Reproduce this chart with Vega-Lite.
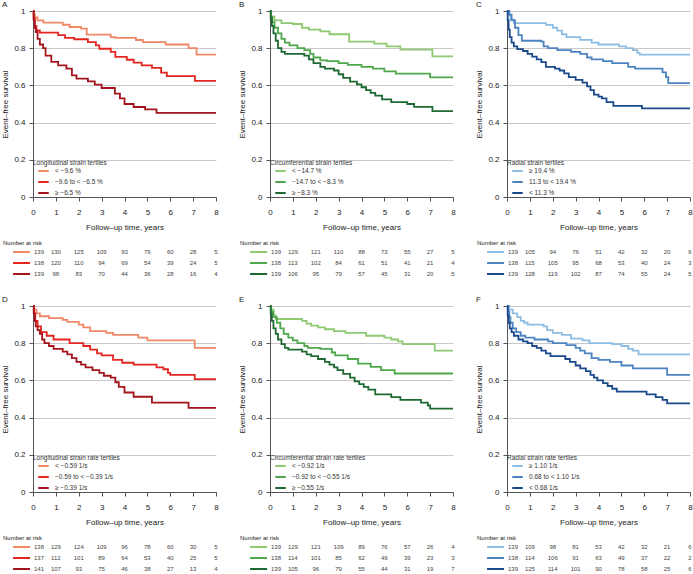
{
"$schema":"https://vega.github.io/schema/vega-lite/v6.json",
"padding":{"left":1,"top":1,"right":0,"bottom":0},
"background":"white",
"datasets":{
"km":[
{"p":"A","g":1,"t":0,"s":1},{"p":"A","g":1,"t":0.03,"s":0.98},{"p":"A","g":1,"t":0.08,"s":0.965},{"p":"A","g":1,"t":0.2,"s":0.95},{"p":"A","g":1,"t":0.45,"s":0.937},{"p":"A","g":1,"t":1.3,"s":0.926},{"p":"A","g":1,"t":1.6,"s":0.914},{"p":"A","g":1,"t":2.1,"s":0.905},{"p":"A","g":1,"t":2.35,"s":0.873},{"p":"A","g":1,"t":3.4,"s":0.86},{"p":"A","g":1,"t":3.6,"s":0.855},{"p":"A","g":1,"t":4.5,"s":0.844},{"p":"A","g":1,"t":4.8,"s":0.833},{"p":"A","g":1,"t":5.8,"s":0.82},{"p":"A","g":1,"t":6.8,"s":0.8},{"p":"A","g":1,"t":7.15,"s":0.765},{"p":"A","g":1,"t":8,"s":0.765},
{"p":"A","g":2,"t":0,"s":1},{"p":"A","g":2,"t":0.03,"s":0.96},{"p":"A","g":2,"t":0.08,"s":0.92},{"p":"A","g":2,"t":0.15,"s":0.896},{"p":"A","g":2,"t":0.3,"s":0.884},{"p":"A","g":2,"t":1.1,"s":0.87},{"p":"A","g":2,"t":1.4,"s":0.855},{"p":"A","g":2,"t":1.8,"s":0.848},{"p":"A","g":2,"t":2.4,"s":0.833},{"p":"A","g":2,"t":2.75,"s":0.815},{"p":"A","g":2,"t":2.9,"s":0.797},{"p":"A","g":2,"t":3.4,"s":0.78},{"p":"A","g":2,"t":3.6,"s":0.753},{"p":"A","g":2,"t":4.1,"s":0.738},{"p":"A","g":2,"t":4.4,"s":0.722},{"p":"A","g":2,"t":4.75,"s":0.708},{"p":"A","g":2,"t":5.2,"s":0.694},{"p":"A","g":2,"t":5.6,"s":0.669},{"p":"A","g":2,"t":5.85,"s":0.65},{"p":"A","g":2,"t":7.08,"s":0.624},{"p":"A","g":2,"t":8,"s":0.624},
{"p":"A","g":3,"t":0,"s":1},{"p":"A","g":3,"t":0.03,"s":0.95},{"p":"A","g":3,"t":0.07,"s":0.91},{"p":"A","g":3,"t":0.12,"s":0.887},{"p":"A","g":3,"t":0.2,"s":0.85},{"p":"A","g":3,"t":0.3,"s":0.82},{"p":"A","g":3,"t":0.44,"s":0.8},{"p":"A","g":3,"t":0.55,"s":0.76},{"p":"A","g":3,"t":0.8,"s":0.726},{"p":"A","g":3,"t":1.1,"s":0.708},{"p":"A","g":3,"t":1.46,"s":0.69},{"p":"A","g":3,"t":1.7,"s":0.654},{"p":"A","g":3,"t":1.9,"s":0.636},{"p":"A","g":3,"t":2.4,"s":0.622},{"p":"A","g":3,"t":2.7,"s":0.604},{"p":"A","g":3,"t":3.0,"s":0.586},{"p":"A","g":3,"t":3.58,"s":0.556},{"p":"A","g":3,"t":3.8,"s":0.53},{"p":"A","g":3,"t":4.0,"s":0.5},{"p":"A","g":3,"t":4.4,"s":0.484},{"p":"A","g":3,"t":4.9,"s":0.471},{"p":"A","g":3,"t":5.4,"s":0.452},{"p":"A","g":3,"t":8,"s":0.452},
{"p":"B","g":1,"t":0,"s":1},{"p":"B","g":1,"t":0.05,"s":0.97},{"p":"B","g":1,"t":0.2,"s":0.95},{"p":"B","g":1,"t":0.5,"s":0.935},{"p":"B","g":1,"t":1.0,"s":0.93},{"p":"B","g":1,"t":1.4,"s":0.91},{"p":"B","g":1,"t":1.7,"s":0.9},{"p":"B","g":1,"t":2.2,"s":0.89},{"p":"B","g":1,"t":2.6,"s":0.875},{"p":"B","g":1,"t":3.46,"s":0.835},{"p":"B","g":1,"t":4.56,"s":0.825},{"p":"B","g":1,"t":5.1,"s":0.81},{"p":"B","g":1,"t":5.7,"s":0.792},{"p":"B","g":1,"t":7.1,"s":0.756},{"p":"B","g":1,"t":8,"s":0.756},
{"p":"B","g":2,"t":0,"s":1},{"p":"B","g":2,"t":0.05,"s":0.97},{"p":"B","g":2,"t":0.1,"s":0.94},{"p":"B","g":2,"t":0.2,"s":0.91},{"p":"B","g":2,"t":0.35,"s":0.88},{"p":"B","g":2,"t":0.5,"s":0.85},{"p":"B","g":2,"t":0.65,"s":0.83},{"p":"B","g":2,"t":0.85,"s":0.815},{"p":"B","g":2,"t":1.2,"s":0.8},{"p":"B","g":2,"t":1.5,"s":0.79},{"p":"B","g":2,"t":1.75,"s":0.77},{"p":"B","g":2,"t":1.9,"s":0.75},{"p":"B","g":2,"t":2.2,"s":0.735},{"p":"B","g":2,"t":2.5,"s":0.73},{"p":"B","g":2,"t":3.0,"s":0.72},{"p":"B","g":2,"t":3.4,"s":0.71},{"p":"B","g":2,"t":4.0,"s":0.7},{"p":"B","g":2,"t":4.5,"s":0.69},{"p":"B","g":2,"t":5.0,"s":0.675},{"p":"B","g":2,"t":5.5,"s":0.663},{"p":"B","g":2,"t":7.0,"s":0.643},{"p":"B","g":2,"t":8,"s":0.643},
{"p":"B","g":3,"t":0,"s":1},{"p":"B","g":3,"t":0.03,"s":0.96},{"p":"B","g":3,"t":0.08,"s":0.92},{"p":"B","g":3,"t":0.15,"s":0.88},{"p":"B","g":3,"t":0.25,"s":0.84},{"p":"B","g":3,"t":0.35,"s":0.8},{"p":"B","g":3,"t":0.5,"s":0.78},{"p":"B","g":3,"t":0.65,"s":0.77},{"p":"B","g":3,"t":1.5,"s":0.76},{"p":"B","g":3,"t":1.7,"s":0.74},{"p":"B","g":3,"t":1.9,"s":0.72},{"p":"B","g":3,"t":2.2,"s":0.7},{"p":"B","g":3,"t":2.4,"s":0.69},{"p":"B","g":3,"t":2.8,"s":0.68},{"p":"B","g":3,"t":3.0,"s":0.66},{"p":"B","g":3,"t":3.2,"s":0.64},{"p":"B","g":3,"t":3.5,"s":0.62},{"p":"B","g":3,"t":3.8,"s":0.605},{"p":"B","g":3,"t":4.0,"s":0.59},{"p":"B","g":3,"t":4.2,"s":0.575},{"p":"B","g":3,"t":4.4,"s":0.56},{"p":"B","g":3,"t":4.6,"s":0.545},{"p":"B","g":3,"t":4.9,"s":0.525},{"p":"B","g":3,"t":5.3,"s":0.51},{"p":"B","g":3,"t":6.0,"s":0.5},{"p":"B","g":3,"t":6.3,"s":0.485},{"p":"B","g":3,"t":7.1,"s":0.462},{"p":"B","g":3,"t":8,"s":0.462},
{"p":"C","g":1,"t":0,"s":1},{"p":"C","g":1,"t":0.05,"s":0.98},{"p":"C","g":1,"t":0.15,"s":0.955},{"p":"C","g":1,"t":0.3,"s":0.935},{"p":"C","g":1,"t":1.7,"s":0.925},{"p":"C","g":1,"t":2.0,"s":0.91},{"p":"C","g":1,"t":2.2,"s":0.895},{"p":"C","g":1,"t":2.4,"s":0.875},{"p":"C","g":1,"t":2.6,"s":0.86},{"p":"C","g":1,"t":3.2,"s":0.845},{"p":"C","g":1,"t":3.7,"s":0.83},{"p":"C","g":1,"t":4.0,"s":0.82},{"p":"C","g":1,"t":4.9,"s":0.81},{"p":"C","g":1,"t":5.2,"s":0.8},{"p":"C","g":1,"t":5.5,"s":0.79},{"p":"C","g":1,"t":5.7,"s":0.775},{"p":"C","g":1,"t":5.8,"s":0.765},{"p":"C","g":1,"t":8,"s":0.765},
{"p":"C","g":2,"t":0,"s":1},{"p":"C","g":2,"t":0.1,"s":0.98},{"p":"C","g":2,"t":0.2,"s":0.95},{"p":"C","g":2,"t":0.35,"s":0.91},{"p":"C","g":2,"t":0.5,"s":0.87},{"p":"C","g":2,"t":0.65,"s":0.84},{"p":"C","g":2,"t":1.5,"s":0.835},{"p":"C","g":2,"t":1.6,"s":0.81},{"p":"C","g":2,"t":1.8,"s":0.8},{"p":"C","g":2,"t":2.2,"s":0.79},{"p":"C","g":2,"t":2.8,"s":0.78},{"p":"C","g":2,"t":3.2,"s":0.77},{"p":"C","g":2,"t":3.5,"s":0.75},{"p":"C","g":2,"t":3.7,"s":0.74},{"p":"C","g":2,"t":4.2,"s":0.73},{"p":"C","g":2,"t":4.6,"s":0.72},{"p":"C","g":2,"t":5.3,"s":0.7},{"p":"C","g":2,"t":5.6,"s":0.69},{"p":"C","g":2,"t":6.8,"s":0.67},{"p":"C","g":2,"t":6.95,"s":0.645},{"p":"C","g":2,"t":7.05,"s":0.612},{"p":"C","g":2,"t":8,"s":0.612},
{"p":"C","g":3,"t":0,"s":1},{"p":"C","g":3,"t":0.03,"s":0.95},{"p":"C","g":3,"t":0.07,"s":0.9},{"p":"C","g":3,"t":0.12,"s":0.86},{"p":"C","g":3,"t":0.2,"s":0.83},{"p":"C","g":3,"t":0.3,"s":0.81},{"p":"C","g":3,"t":0.45,"s":0.795},{"p":"C","g":3,"t":0.7,"s":0.785},{"p":"C","g":3,"t":0.9,"s":0.77},{"p":"C","g":3,"t":1.1,"s":0.755},{"p":"C","g":3,"t":1.3,"s":0.74},{"p":"C","g":3,"t":1.5,"s":0.725},{"p":"C","g":3,"t":1.7,"s":0.7},{"p":"C","g":3,"t":2.1,"s":0.69},{"p":"C","g":3,"t":2.3,"s":0.68},{"p":"C","g":3,"t":2.5,"s":0.665},{"p":"C","g":3,"t":2.7,"s":0.645},{"p":"C","g":3,"t":3.0,"s":0.63},{"p":"C","g":3,"t":3.3,"s":0.615},{"p":"C","g":3,"t":3.5,"s":0.595},{"p":"C","g":3,"t":3.65,"s":0.575},{"p":"C","g":3,"t":3.8,"s":0.55},{"p":"C","g":3,"t":4.0,"s":0.54},{"p":"C","g":3,"t":4.15,"s":0.53},{"p":"C","g":3,"t":4.35,"s":0.51},{"p":"C","g":3,"t":4.65,"s":0.49},{"p":"C","g":3,"t":5.9,"s":0.477},{"p":"C","g":3,"t":8,"s":0.477},
{"p":"D","g":1,"t":0,"s":1},{"p":"D","g":1,"t":0.05,"s":0.98},{"p":"D","g":1,"t":0.15,"s":0.96},{"p":"D","g":1,"t":0.3,"s":0.945},{"p":"D","g":1,"t":0.7,"s":0.935},{"p":"D","g":1,"t":1.3,"s":0.925},{"p":"D","g":1,"t":1.5,"s":0.915},{"p":"D","g":1,"t":2.0,"s":0.9},{"p":"D","g":1,"t":2.2,"s":0.885},{"p":"D","g":1,"t":2.5,"s":0.865},{"p":"D","g":1,"t":3.2,"s":0.855},{"p":"D","g":1,"t":3.5,"s":0.845},{"p":"D","g":1,"t":4.6,"s":0.83},{"p":"D","g":1,"t":5.0,"s":0.815},{"p":"D","g":1,"t":7.07,"s":0.775},{"p":"D","g":1,"t":8,"s":0.775},
{"p":"D","g":2,"t":0,"s":1},{"p":"D","g":2,"t":0.05,"s":0.96},{"p":"D","g":2,"t":0.1,"s":0.92},{"p":"D","g":2,"t":0.2,"s":0.89},{"p":"D","g":2,"t":0.35,"s":0.86},{"p":"D","g":2,"t":0.6,"s":0.84},{"p":"D","g":2,"t":0.9,"s":0.82},{"p":"D","g":2,"t":1.6,"s":0.8},{"p":"D","g":2,"t":2.2,"s":0.785},{"p":"D","g":2,"t":2.5,"s":0.765},{"p":"D","g":2,"t":2.8,"s":0.745},{"p":"D","g":2,"t":3.0,"s":0.735},{"p":"D","g":2,"t":3.5,"s":0.71},{"p":"D","g":2,"t":3.9,"s":0.695},{"p":"D","g":2,"t":4.4,"s":0.685},{"p":"D","g":2,"t":5.4,"s":0.67},{"p":"D","g":2,"t":5.7,"s":0.66},{"p":"D","g":2,"t":5.9,"s":0.64},{"p":"D","g":2,"t":6.0,"s":0.63},{"p":"D","g":2,"t":7.07,"s":0.607},{"p":"D","g":2,"t":8,"s":0.607},
{"p":"D","g":3,"t":0,"s":1},{"p":"D","g":3,"t":0.03,"s":0.96},{"p":"D","g":3,"t":0.07,"s":0.92},{"p":"D","g":3,"t":0.12,"s":0.89},{"p":"D","g":3,"t":0.2,"s":0.87},{"p":"D","g":3,"t":0.3,"s":0.85},{"p":"D","g":3,"t":0.4,"s":0.82},{"p":"D","g":3,"t":0.5,"s":0.8},{"p":"D","g":3,"t":0.7,"s":0.785},{"p":"D","g":3,"t":0.9,"s":0.77},{"p":"D","g":3,"t":1.3,"s":0.755},{"p":"D","g":3,"t":1.5,"s":0.74},{"p":"D","g":3,"t":1.7,"s":0.72},{"p":"D","g":3,"t":1.9,"s":0.7},{"p":"D","g":3,"t":2.1,"s":0.685},{"p":"D","g":3,"t":2.3,"s":0.67},{"p":"D","g":3,"t":2.6,"s":0.655},{"p":"D","g":3,"t":2.9,"s":0.64},{"p":"D","g":3,"t":3.1,"s":0.625},{"p":"D","g":3,"t":3.4,"s":0.615},{"p":"D","g":3,"t":3.6,"s":0.59},{"p":"D","g":3,"t":3.75,"s":0.565},{"p":"D","g":3,"t":4.0,"s":0.535},{"p":"D","g":3,"t":4.4,"s":0.512},{"p":"D","g":3,"t":5.2,"s":0.48},{"p":"D","g":3,"t":6.8,"s":0.452},{"p":"D","g":3,"t":8,"s":0.452},
{"p":"E","g":1,"t":0,"s":1},{"p":"E","g":1,"t":0.05,"s":0.98},{"p":"E","g":1,"t":0.15,"s":0.95},{"p":"E","g":1,"t":0.25,"s":0.93},{"p":"E","g":1,"t":1.4,"s":0.92},{"p":"E","g":1,"t":1.6,"s":0.905},{"p":"E","g":1,"t":1.8,"s":0.895},{"p":"E","g":1,"t":2.1,"s":0.885},{"p":"E","g":1,"t":2.4,"s":0.875},{"p":"E","g":1,"t":2.8,"s":0.865},{"p":"E","g":1,"t":3.3,"s":0.855},{"p":"E","g":1,"t":4.2,"s":0.84},{"p":"E","g":1,"t":5.0,"s":0.83},{"p":"E","g":1,"t":5.3,"s":0.82},{"p":"E","g":1,"t":5.6,"s":0.81},{"p":"E","g":1,"t":5.8,"s":0.795},{"p":"E","g":1,"t":7.2,"s":0.76},{"p":"E","g":1,"t":8,"s":0.76},
{"p":"E","g":2,"t":0,"s":1},{"p":"E","g":2,"t":0.05,"s":0.97},{"p":"E","g":2,"t":0.15,"s":0.94},{"p":"E","g":2,"t":0.3,"s":0.91},{"p":"E","g":2,"t":0.45,"s":0.88},{"p":"E","g":2,"t":0.6,"s":0.85},{"p":"E","g":2,"t":0.8,"s":0.83},{"p":"E","g":2,"t":1.0,"s":0.815},{"p":"E","g":2,"t":1.2,"s":0.8},{"p":"E","g":2,"t":1.5,"s":0.785},{"p":"E","g":2,"t":1.65,"s":0.775},{"p":"E","g":2,"t":2.2,"s":0.77},{"p":"E","g":2,"t":2.7,"s":0.75},{"p":"E","g":2,"t":2.85,"s":0.735},{"p":"E","g":2,"t":3.4,"s":0.715},{"p":"E","g":2,"t":3.85,"s":0.69},{"p":"E","g":2,"t":4.4,"s":0.673},{"p":"E","g":2,"t":4.85,"s":0.655},{"p":"E","g":2,"t":5.45,"s":0.637},{"p":"E","g":2,"t":8,"s":0.637},
{"p":"E","g":3,"t":0,"s":1},{"p":"E","g":3,"t":0.03,"s":0.96},{"p":"E","g":3,"t":0.08,"s":0.92},{"p":"E","g":3,"t":0.15,"s":0.88},{"p":"E","g":3,"t":0.25,"s":0.85},{"p":"E","g":3,"t":0.35,"s":0.82},{"p":"E","g":3,"t":0.5,"s":0.795},{"p":"E","g":3,"t":0.65,"s":0.775},{"p":"E","g":3,"t":0.8,"s":0.765},{"p":"E","g":3,"t":1.4,"s":0.755},{"p":"E","g":3,"t":1.6,"s":0.74},{"p":"E","g":3,"t":1.8,"s":0.73},{"p":"E","g":3,"t":2.1,"s":0.715},{"p":"E","g":3,"t":2.4,"s":0.7},{"p":"E","g":3,"t":2.6,"s":0.685},{"p":"E","g":3,"t":2.8,"s":0.67},{"p":"E","g":3,"t":2.95,"s":0.655},{"p":"E","g":3,"t":3.2,"s":0.635},{"p":"E","g":3,"t":3.5,"s":0.615},{"p":"E","g":3,"t":3.7,"s":0.595},{"p":"E","g":3,"t":3.9,"s":0.58},{"p":"E","g":3,"t":4.1,"s":0.565},{"p":"E","g":3,"t":4.3,"s":0.55},{"p":"E","g":3,"t":4.6,"s":0.525},{"p":"E","g":3,"t":5.3,"s":0.51},{"p":"E","g":3,"t":5.7,"s":0.495},{"p":"E","g":3,"t":6.6,"s":0.48},{"p":"E","g":3,"t":6.9,"s":0.465},{"p":"E","g":3,"t":7.0,"s":0.448},{"p":"E","g":3,"t":8,"s":0.448},
{"p":"F","g":1,"t":0,"s":1},{"p":"F","g":1,"t":0.1,"s":0.98},{"p":"F","g":1,"t":0.25,"s":0.96},{"p":"F","g":1,"t":0.45,"s":0.94},{"p":"F","g":1,"t":0.6,"s":0.92},{"p":"F","g":1,"t":0.75,"s":0.91},{"p":"F","g":1,"t":0.9,"s":0.9},{"p":"F","g":1,"t":1.6,"s":0.89},{"p":"F","g":1,"t":1.75,"s":0.87},{"p":"F","g":1,"t":2.0,"s":0.855},{"p":"F","g":1,"t":2.4,"s":0.845},{"p":"F","g":1,"t":2.8,"s":0.825},{"p":"F","g":1,"t":3.3,"s":0.815},{"p":"F","g":1,"t":3.6,"s":0.8},{"p":"F","g":1,"t":4.6,"s":0.795},{"p":"F","g":1,"t":5.0,"s":0.785},{"p":"F","g":1,"t":5.3,"s":0.77},{"p":"F","g":1,"t":5.5,"s":0.76},{"p":"F","g":1,"t":5.75,"s":0.74},{"p":"F","g":1,"t":8,"s":0.74},
{"p":"F","g":2,"t":0,"s":1},{"p":"F","g":2,"t":0.05,"s":0.97},{"p":"F","g":2,"t":0.1,"s":0.94},{"p":"F","g":2,"t":0.15,"s":0.91},{"p":"F","g":2,"t":0.25,"s":0.88},{"p":"F","g":2,"t":0.4,"s":0.86},{"p":"F","g":2,"t":0.6,"s":0.84},{"p":"F","g":2,"t":0.8,"s":0.83},{"p":"F","g":2,"t":1.2,"s":0.82},{"p":"F","g":2,"t":1.8,"s":0.81},{"p":"F","g":2,"t":2.0,"s":0.8},{"p":"F","g":2,"t":2.6,"s":0.79},{"p":"F","g":2,"t":3.0,"s":0.775},{"p":"F","g":2,"t":3.2,"s":0.76},{"p":"F","g":2,"t":3.4,"s":0.745},{"p":"F","g":2,"t":3.7,"s":0.72},{"p":"F","g":2,"t":4.0,"s":0.71},{"p":"F","g":2,"t":4.5,"s":0.7},{"p":"F","g":2,"t":5.0,"s":0.68},{"p":"F","g":2,"t":5.5,"s":0.665},{"p":"F","g":2,"t":7.0,"s":0.63},{"p":"F","g":2,"t":8,"s":0.63},
{"p":"F","g":3,"t":0,"s":1},{"p":"F","g":3,"t":0.03,"s":0.95},{"p":"F","g":3,"t":0.07,"s":0.91},{"p":"F","g":3,"t":0.12,"s":0.88},{"p":"F","g":3,"t":0.2,"s":0.86},{"p":"F","g":3,"t":0.3,"s":0.84},{"p":"F","g":3,"t":0.5,"s":0.82},{"p":"F","g":3,"t":0.7,"s":0.81},{"p":"F","g":3,"t":0.9,"s":0.8},{"p":"F","g":3,"t":1.1,"s":0.785},{"p":"F","g":3,"t":1.3,"s":0.775},{"p":"F","g":3,"t":1.5,"s":0.76},{"p":"F","g":3,"t":1.7,"s":0.745},{"p":"F","g":3,"t":1.9,"s":0.73},{"p":"F","g":3,"t":2.55,"s":0.715},{"p":"F","g":3,"t":2.75,"s":0.7},{"p":"F","g":3,"t":3.0,"s":0.68},{"p":"F","g":3,"t":3.2,"s":0.665},{"p":"F","g":3,"t":3.45,"s":0.65},{"p":"F","g":3,"t":3.65,"s":0.63},{"p":"F","g":3,"t":3.8,"s":0.615},{"p":"F","g":3,"t":3.95,"s":0.6},{"p":"F","g":3,"t":4.2,"s":0.585},{"p":"F","g":3,"t":4.4,"s":0.57},{"p":"F","g":3,"t":4.6,"s":0.555},{"p":"F","g":3,"t":4.8,"s":0.54},{"p":"F","g":3,"t":6.1,"s":0.525},{"p":"F","g":3,"t":6.5,"s":0.51},{"p":"F","g":3,"t":6.8,"s":0.495},{"p":"F","g":3,"t":7.0,"s":0.477},{"p":"F","g":3,"t":8,"s":0.477}
],
"risk":[
{"p":"A","g":1,"t":0,"n":139},{"p":"A","g":1,"t":1,"n":130},{"p":"A","g":1,"t":2,"n":125},{"p":"A","g":1,"t":3,"n":109},{"p":"A","g":1,"t":4,"n":93},{"p":"A","g":1,"t":5,"n":79},{"p":"A","g":1,"t":6,"n":60},{"p":"A","g":1,"t":7,"n":28},{"p":"A","g":1,"t":8,"n":5},
{"p":"A","g":2,"t":0,"n":138},{"p":"A","g":2,"t":1,"n":120},{"p":"A","g":2,"t":2,"n":110},{"p":"A","g":2,"t":3,"n":94},{"p":"A","g":2,"t":4,"n":69},{"p":"A","g":2,"t":5,"n":54},{"p":"A","g":2,"t":6,"n":39},{"p":"A","g":2,"t":7,"n":24},{"p":"A","g":2,"t":8,"n":5},
{"p":"A","g":3,"t":0,"n":139},{"p":"A","g":3,"t":1,"n":98},{"p":"A","g":3,"t":2,"n":83},{"p":"A","g":3,"t":3,"n":70},{"p":"A","g":3,"t":4,"n":44},{"p":"A","g":3,"t":5,"n":36},{"p":"A","g":3,"t":6,"n":28},{"p":"A","g":3,"t":7,"n":16},{"p":"A","g":3,"t":8,"n":4},
{"p":"B","g":1,"t":0,"n":139},{"p":"B","g":1,"t":1,"n":129},{"p":"B","g":1,"t":2,"n":121},{"p":"B","g":1,"t":3,"n":110},{"p":"B","g":1,"t":4,"n":88},{"p":"B","g":1,"t":5,"n":73},{"p":"B","g":1,"t":6,"n":55},{"p":"B","g":1,"t":7,"n":27},{"p":"B","g":1,"t":8,"n":5},
{"p":"B","g":2,"t":0,"n":138},{"p":"B","g":2,"t":1,"n":113},{"p":"B","g":2,"t":2,"n":102},{"p":"B","g":2,"t":3,"n":84},{"p":"B","g":2,"t":4,"n":61},{"p":"B","g":2,"t":5,"n":51},{"p":"B","g":2,"t":6,"n":41},{"p":"B","g":2,"t":7,"n":21},{"p":"B","g":2,"t":8,"n":4},
{"p":"B","g":3,"t":0,"n":139},{"p":"B","g":3,"t":1,"n":106},{"p":"B","g":3,"t":2,"n":95},{"p":"B","g":3,"t":3,"n":79},{"p":"B","g":3,"t":4,"n":57},{"p":"B","g":3,"t":5,"n":45},{"p":"B","g":3,"t":6,"n":31},{"p":"B","g":3,"t":7,"n":20},{"p":"B","g":3,"t":8,"n":5},
{"p":"C","g":1,"t":0,"n":139},{"p":"C","g":1,"t":1,"n":105},{"p":"C","g":1,"t":2,"n":94},{"p":"C","g":1,"t":3,"n":76},{"p":"C","g":1,"t":4,"n":51},{"p":"C","g":1,"t":5,"n":42},{"p":"C","g":1,"t":6,"n":32},{"p":"C","g":1,"t":7,"n":20},{"p":"C","g":1,"t":8,"n":6},
{"p":"C","g":2,"t":0,"n":138},{"p":"C","g":2,"t":1,"n":115},{"p":"C","g":2,"t":2,"n":105},{"p":"C","g":2,"t":3,"n":95},{"p":"C","g":2,"t":4,"n":68},{"p":"C","g":2,"t":5,"n":53},{"p":"C","g":2,"t":6,"n":40},{"p":"C","g":2,"t":7,"n":24},{"p":"C","g":2,"t":8,"n":3},
{"p":"C","g":3,"t":0,"n":139},{"p":"C","g":3,"t":1,"n":128},{"p":"C","g":3,"t":2,"n":119},{"p":"C","g":3,"t":3,"n":102},{"p":"C","g":3,"t":4,"n":87},{"p":"C","g":3,"t":5,"n":74},{"p":"C","g":3,"t":6,"n":55},{"p":"C","g":3,"t":7,"n":24},{"p":"C","g":3,"t":8,"n":5},
{"p":"D","g":1,"t":0,"n":138},{"p":"D","g":1,"t":1,"n":129},{"p":"D","g":1,"t":2,"n":124},{"p":"D","g":1,"t":3,"n":109},{"p":"D","g":1,"t":4,"n":96},{"p":"D","g":1,"t":5,"n":78},{"p":"D","g":1,"t":6,"n":60},{"p":"D","g":1,"t":7,"n":30},{"p":"D","g":1,"t":8,"n":5},
{"p":"D","g":2,"t":0,"n":137},{"p":"D","g":2,"t":1,"n":112},{"p":"D","g":2,"t":2,"n":101},{"p":"D","g":2,"t":3,"n":89},{"p":"D","g":2,"t":4,"n":64},{"p":"D","g":2,"t":5,"n":53},{"p":"D","g":2,"t":6,"n":40},{"p":"D","g":2,"t":7,"n":25},{"p":"D","g":2,"t":8,"n":5},
{"p":"D","g":3,"t":0,"n":141},{"p":"D","g":3,"t":1,"n":107},{"p":"D","g":3,"t":2,"n":93},{"p":"D","g":3,"t":3,"n":75},{"p":"D","g":3,"t":4,"n":46},{"p":"D","g":3,"t":5,"n":38},{"p":"D","g":3,"t":6,"n":27},{"p":"D","g":3,"t":7,"n":13},{"p":"D","g":3,"t":8,"n":4},
{"p":"E","g":1,"t":0,"n":139},{"p":"E","g":1,"t":1,"n":129},{"p":"E","g":1,"t":2,"n":121},{"p":"E","g":1,"t":3,"n":109},{"p":"E","g":1,"t":4,"n":89},{"p":"E","g":1,"t":5,"n":76},{"p":"E","g":1,"t":6,"n":57},{"p":"E","g":1,"t":7,"n":26},{"p":"E","g":1,"t":8,"n":4},
{"p":"E","g":2,"t":0,"n":138},{"p":"E","g":2,"t":1,"n":114},{"p":"E","g":2,"t":2,"n":101},{"p":"E","g":2,"t":3,"n":85},{"p":"E","g":2,"t":4,"n":62},{"p":"E","g":2,"t":5,"n":49},{"p":"E","g":2,"t":6,"n":39},{"p":"E","g":2,"t":7,"n":23},{"p":"E","g":2,"t":8,"n":3},
{"p":"E","g":3,"t":0,"n":139},{"p":"E","g":3,"t":1,"n":105},{"p":"E","g":3,"t":2,"n":96},{"p":"E","g":3,"t":3,"n":79},{"p":"E","g":3,"t":4,"n":55},{"p":"E","g":3,"t":5,"n":44},{"p":"E","g":3,"t":6,"n":31},{"p":"E","g":3,"t":7,"n":19},{"p":"E","g":3,"t":8,"n":7},
{"p":"F","g":1,"t":0,"n":139},{"p":"F","g":1,"t":1,"n":109},{"p":"F","g":1,"t":2,"n":98},{"p":"F","g":1,"t":3,"n":81},{"p":"F","g":1,"t":4,"n":53},{"p":"F","g":1,"t":5,"n":42},{"p":"F","g":1,"t":6,"n":32},{"p":"F","g":1,"t":7,"n":21},{"p":"F","g":1,"t":8,"n":6},
{"p":"F","g":2,"t":0,"n":138},{"p":"F","g":2,"t":1,"n":114},{"p":"F","g":2,"t":2,"n":106},{"p":"F","g":2,"t":3,"n":91},{"p":"F","g":2,"t":4,"n":63},{"p":"F","g":2,"t":5,"n":49},{"p":"F","g":2,"t":6,"n":37},{"p":"F","g":2,"t":7,"n":22},{"p":"F","g":2,"t":8,"n":2},
{"p":"F","g":3,"t":0,"n":139},{"p":"F","g":3,"t":1,"n":125},{"p":"F","g":3,"t":2,"n":114},{"p":"F","g":3,"t":3,"n":101},{"p":"F","g":3,"t":4,"n":90},{"p":"F","g":3,"t":5,"n":78},{"p":"F","g":3,"t":6,"n":58},{"p":"F","g":3,"t":7,"n":25},{"p":"F","g":3,"t":8,"n":6}
]
},
"columns":3,
"spacing":{"row":27.5,"column":54},
"bounds":"flush",
"resolve":{"scale":{"color":"independent"}},
"concat":[
{"width":183,"height":186,"title":{"text":"A"},"data":{"name":"km"},"transform":[{"filter":"datum.p=='A'"}],"mark":{"type":"line","interpolate":"step-after","strokeWidth":1.8},
"encoding":{"x":{"field":"t","type":"quantitative","scale":{"domain":[0,8],"nice":false},"axis":{"title":"Follow–up time, years","values":[0,1,2,3,4,5,6,7,8],"grid":false,"titleFontWeight":"normal"}},
"y":{"field":"s","type":"quantitative","scale":{"domain":[0,1]},"axis":{"title":"Event–free survival","values":[0,0.2,0.4,0.6,0.8,1],"format":"~g","grid":true,"titleFontWeight":"normal"}},
"color":{"field":"g","type":"nominal","scale":{"domain":[1,2,3],"range":["#f08866","#e3261f","#a3141d"]},"legend":{"title":"Longitudinal strain tertiles","labelExpr":"['< −9.6 %','−9.6 to < −6.5 %','≥ −6.5 %'][datum.value-1]"}}}},
{"width":183,"height":186,"title":{"text":"B"},"data":{"name":"km"},"transform":[{"filter":"datum.p=='B'"}],"mark":{"type":"line","interpolate":"step-after","strokeWidth":1.8},
"encoding":{"x":{"field":"t","type":"quantitative","scale":{"domain":[0,8],"nice":false},"axis":{"title":"Follow–up time, years","values":[0,1,2,3,4,5,6,7,8],"grid":false,"titleFontWeight":"normal"}},
"y":{"field":"s","type":"quantitative","scale":{"domain":[0,1]},"axis":{"title":"Event–free survival","values":[0,0.2,0.4,0.6,0.8,1],"format":"~g","grid":true,"titleFontWeight":"normal"}},
"color":{"field":"g","type":"nominal","scale":{"domain":[1,2,3],"range":["#8fc972","#4fa84b","#1e6a32"]},"legend":{"title":"Circumferential strain tertiles","labelExpr":"['< −14.7 %','−14.7 to < −8.3 %','≥ −8.3 %'][datum.value-1]"}}}},
{"width":183,"height":186,"title":{"text":"C"},"data":{"name":"km"},"transform":[{"filter":"datum.p=='C'"}],"mark":{"type":"line","interpolate":"step-after","strokeWidth":1.8},
"encoding":{"x":{"field":"t","type":"quantitative","scale":{"domain":[0,8],"nice":false},"axis":{"title":"Follow–up time, years","values":[0,1,2,3,4,5,6,7,8],"grid":false,"titleFontWeight":"normal"}},
"y":{"field":"s","type":"quantitative","scale":{"domain":[0,1]},"axis":{"title":"Event–free survival","values":[0,0.2,0.4,0.6,0.8,1],"format":"~g","grid":true,"titleFontWeight":"normal"}},
"color":{"field":"g","type":"nominal","scale":{"domain":[1,2,3],"range":["#8ebde3","#4b84c0","#1b4a8c"]},"legend":{"title":"Radial strain tertiles","labelExpr":"['≥ 19.4 %','11.3 to < 19.4 %','< 11.3 %'][datum.value-1]"}}}},
{"width":183,"height":54,"title":{"text":"Number at risk","frame":"group","dx":-30,"dy":21,"offset":0,"fontSize":6},"data":{"name":"risk"},"transform":[{"filter":"datum.p=='A'"}],
"encoding":{"y":{"field":"g","type":"quantitative","scale":{"domain":[-1.5,3.409],"reverse":true,"nice":false,"zero":false},"axis":null}},
"layer":[
{"transform":[{"filter":"datum.t==0"}],"mark":{"type":"point","shape":"stroke","size":289,"strokeWidth":2,"filled":false,"opacity":1},"encoding":{"x":{"datum":-0.5,"type":"quantitative","scale":{"domain":[0,8],"nice":false},"axis":null},"color":{"field":"g","type":"nominal","scale":{"domain":[1,2,3],"range":["#f08866","#e3261f","#a3141d"]},"legend":null}}},
{"transform":[{"filter":"datum.t==0"}],"mark":{"type":"text","dx":6,"fontSize":6,"color":"#444"},"encoding":{"x":{"field":"t","type":"quantitative"},"text":{"field":"n"}}},
{"transform":[{"filter":"datum.t>0"}],"mark":{"type":"text","fontSize":6,"color":"#444"},"encoding":{"x":{"field":"t","type":"quantitative"},"text":{"field":"n"}}}
]},
{"width":183,"height":54,"title":{"text":"Number at risk","frame":"group","dx":-30,"dy":21,"offset":0,"fontSize":6},"data":{"name":"risk"},"transform":[{"filter":"datum.p=='B'"}],
"encoding":{"y":{"field":"g","type":"quantitative","scale":{"domain":[-1.5,3.409],"reverse":true,"nice":false,"zero":false},"axis":null}},
"layer":[
{"transform":[{"filter":"datum.t==0"}],"mark":{"type":"point","shape":"stroke","size":289,"strokeWidth":2,"filled":false,"opacity":1},"encoding":{"x":{"datum":-0.5,"type":"quantitative","scale":{"domain":[0,8],"nice":false},"axis":null},"color":{"field":"g","type":"nominal","scale":{"domain":[1,2,3],"range":["#8fc972","#4fa84b","#1e6a32"]},"legend":null}}},
{"transform":[{"filter":"datum.t==0"}],"mark":{"type":"text","dx":6,"fontSize":6,"color":"#444"},"encoding":{"x":{"field":"t","type":"quantitative"},"text":{"field":"n"}}},
{"transform":[{"filter":"datum.t>0"}],"mark":{"type":"text","fontSize":6,"color":"#444"},"encoding":{"x":{"field":"t","type":"quantitative"},"text":{"field":"n"}}}
]},
{"width":183,"height":54,"title":{"text":"Number at risk","frame":"group","dx":-30,"dy":21,"offset":0,"fontSize":6},"data":{"name":"risk"},"transform":[{"filter":"datum.p=='C'"}],
"encoding":{"y":{"field":"g","type":"quantitative","scale":{"domain":[-1.5,3.409],"reverse":true,"nice":false,"zero":false},"axis":null}},
"layer":[
{"transform":[{"filter":"datum.t==0"}],"mark":{"type":"point","shape":"stroke","size":289,"strokeWidth":2,"filled":false,"opacity":1},"encoding":{"x":{"datum":-0.5,"type":"quantitative","scale":{"domain":[0,8],"nice":false},"axis":null},"color":{"field":"g","type":"nominal","scale":{"domain":[1,2,3],"range":["#8ebde3","#4b84c0","#1b4a8c"]},"legend":null}}},
{"transform":[{"filter":"datum.t==0"}],"mark":{"type":"text","dx":6,"fontSize":6,"color":"#444"},"encoding":{"x":{"field":"t","type":"quantitative"},"text":{"field":"n"}}},
{"transform":[{"filter":"datum.t>0"}],"mark":{"type":"text","fontSize":6,"color":"#444"},"encoding":{"x":{"field":"t","type":"quantitative"},"text":{"field":"n"}}}
]},
{"width":183,"height":186,"title":{"text":"D"},"data":{"name":"km"},"transform":[{"filter":"datum.p=='D'"}],"mark":{"type":"line","interpolate":"step-after","strokeWidth":1.8},
"encoding":{"x":{"field":"t","type":"quantitative","scale":{"domain":[0,8],"nice":false},"axis":{"title":"Follow–up time, years","values":[0,1,2,3,4,5,6,7,8],"grid":false,"titleFontWeight":"normal"}},
"y":{"field":"s","type":"quantitative","scale":{"domain":[0,1]},"axis":{"title":"Event–free survival","values":[0,0.2,0.4,0.6,0.8,1],"format":"~g","grid":true,"titleFontWeight":"normal"}},
"color":{"field":"g","type":"nominal","scale":{"domain":[1,2,3],"range":["#f08866","#e3261f","#a3141d"]},"legend":{"title":"Longitudinal strain rate tertiles","labelExpr":"['< −0.59 1/s','−0.59 to < −0.39 1/s','≥ −0.39 1/s'][datum.value-1]"}}}},
{"width":183,"height":186,"title":{"text":"E"},"data":{"name":"km"},"transform":[{"filter":"datum.p=='E'"}],"mark":{"type":"line","interpolate":"step-after","strokeWidth":1.8},
"encoding":{"x":{"field":"t","type":"quantitative","scale":{"domain":[0,8],"nice":false},"axis":{"title":"Follow–up time, years","values":[0,1,2,3,4,5,6,7,8],"grid":false,"titleFontWeight":"normal"}},
"y":{"field":"s","type":"quantitative","scale":{"domain":[0,1]},"axis":{"title":"Event–free survival","values":[0,0.2,0.4,0.6,0.8,1],"format":"~g","grid":true,"titleFontWeight":"normal"}},
"color":{"field":"g","type":"nominal","scale":{"domain":[1,2,3],"range":["#8fc972","#4fa84b","#1e6a32"]},"legend":{"title":"Circumferential strain rate tertiles","labelExpr":"['< −0.92 1/s','−0.92 to < −0.55 1/s','≥ −0.55 1/s'][datum.value-1]"}}}},
{"width":183,"height":186,"title":{"text":"F"},"data":{"name":"km"},"transform":[{"filter":"datum.p=='F'"}],"mark":{"type":"line","interpolate":"step-after","strokeWidth":1.8},
"encoding":{"x":{"field":"t","type":"quantitative","scale":{"domain":[0,8],"nice":false},"axis":{"title":"Follow–up time, years","values":[0,1,2,3,4,5,6,7,8],"grid":false,"titleFontWeight":"normal"}},
"y":{"field":"s","type":"quantitative","scale":{"domain":[0,1]},"axis":{"title":"Event–free survival","values":[0,0.2,0.4,0.6,0.8,1],"format":"~g","grid":true,"titleFontWeight":"normal"}},
"color":{"field":"g","type":"nominal","scale":{"domain":[1,2,3],"range":["#8ebde3","#4b84c0","#1b4a8c"]},"legend":{"title":"Radial strain rate tertiles","labelExpr":"['≥ 1.10 1/s','0.68 to < 1.10 1/s','< 0.68 1/s'][datum.value-1]"}}}},
{"width":183,"height":54,"title":{"text":"Number at risk","frame":"group","dx":-30,"dy":21,"offset":0,"fontSize":6},"data":{"name":"risk"},"transform":[{"filter":"datum.p=='D'"}],
"encoding":{"y":{"field":"g","type":"quantitative","scale":{"domain":[-1.5,3.409],"reverse":true,"nice":false,"zero":false},"axis":null}},
"layer":[
{"transform":[{"filter":"datum.t==0"}],"mark":{"type":"point","shape":"stroke","size":289,"strokeWidth":2,"filled":false,"opacity":1},"encoding":{"x":{"datum":-0.5,"type":"quantitative","scale":{"domain":[0,8],"nice":false},"axis":null},"color":{"field":"g","type":"nominal","scale":{"domain":[1,2,3],"range":["#f08866","#e3261f","#a3141d"]},"legend":null}}},
{"transform":[{"filter":"datum.t==0"}],"mark":{"type":"text","dx":6,"fontSize":6,"color":"#444"},"encoding":{"x":{"field":"t","type":"quantitative"},"text":{"field":"n"}}},
{"transform":[{"filter":"datum.t>0"}],"mark":{"type":"text","fontSize":6,"color":"#444"},"encoding":{"x":{"field":"t","type":"quantitative"},"text":{"field":"n"}}}
]},
{"width":183,"height":54,"title":{"text":"Number at risk","frame":"group","dx":-30,"dy":21,"offset":0,"fontSize":6},"data":{"name":"risk"},"transform":[{"filter":"datum.p=='E'"}],
"encoding":{"y":{"field":"g","type":"quantitative","scale":{"domain":[-1.5,3.409],"reverse":true,"nice":false,"zero":false},"axis":null}},
"layer":[
{"transform":[{"filter":"datum.t==0"}],"mark":{"type":"point","shape":"stroke","size":289,"strokeWidth":2,"filled":false,"opacity":1},"encoding":{"x":{"datum":-0.5,"type":"quantitative","scale":{"domain":[0,8],"nice":false},"axis":null},"color":{"field":"g","type":"nominal","scale":{"domain":[1,2,3],"range":["#8fc972","#4fa84b","#1e6a32"]},"legend":null}}},
{"transform":[{"filter":"datum.t==0"}],"mark":{"type":"text","dx":6,"fontSize":6,"color":"#444"},"encoding":{"x":{"field":"t","type":"quantitative"},"text":{"field":"n"}}},
{"transform":[{"filter":"datum.t>0"}],"mark":{"type":"text","fontSize":6,"color":"#444"},"encoding":{"x":{"field":"t","type":"quantitative"},"text":{"field":"n"}}}
]},
{"width":183,"height":54,"title":{"text":"Number at risk","frame":"group","dx":-30,"dy":21,"offset":0,"fontSize":6},"data":{"name":"risk"},"transform":[{"filter":"datum.p=='F'"}],
"encoding":{"y":{"field":"g","type":"quantitative","scale":{"domain":[-1.5,3.409],"reverse":true,"nice":false,"zero":false},"axis":null}},
"layer":[
{"transform":[{"filter":"datum.t==0"}],"mark":{"type":"point","shape":"stroke","size":289,"strokeWidth":2,"filled":false,"opacity":1},"encoding":{"x":{"datum":-0.5,"type":"quantitative","scale":{"domain":[0,8],"nice":false},"axis":null},"color":{"field":"g","type":"nominal","scale":{"domain":[1,2,3],"range":["#8ebde3","#4b84c0","#1b4a8c"]},"legend":null}}},
{"transform":[{"filter":"datum.t==0"}],"mark":{"type":"text","dx":6,"fontSize":6,"color":"#444"},"encoding":{"x":{"field":"t","type":"quantitative"},"text":{"field":"n"}}},
{"transform":[{"filter":"datum.t>0"}],"mark":{"type":"text","fontSize":6,"color":"#444"},"encoding":{"x":{"field":"t","type":"quantitative"},"text":{"field":"n"}}}
]}
],
"config":{
"font":"Liberation Sans",
"view":{"stroke":null},
"style":{"guide-title":{"fontWeight":"normal"},"group-title":{"fontWeight":"normal"}},
"title":{"anchor":"start","frame":"bounds","fontSize":8,"fontWeight":"normal","offset":-2,"color":"#222"},
"axis":{"labelFont":"Liberation Sans","titleFont":"Liberation Sans","labelFontSize":8,"titleFontSize":8,"titleFontWeight":"normal","labelColor":"#222","titleColor":"#222","domainColor":"#555","tickColor":"#555","gridColor":"#c8c8c8","tickSize":4,"labelFlush":false},
"axisX":{"labelPadding":7,"titlePadding":7,"labelAngle":0,"titleFontWeight":"normal"},
"axisY":{"labelPadding":4,"titlePadding":4,"titleFontWeight":"normal"},
"legend":{"orient":"bottom-left","offset":0,"padding":0,"titleFontSize":6.5,"labelFontSize":6.5,"titleFontWeight":"normal","titleColor":"#333","labelColor":"#333","symbolType":"stroke","symbolStrokeWidth":2,"symbolSize":110,"symbolOffset":4,"rowPadding":-0.5,"titlePadding":-2,"labelOffset":5}
}
}
